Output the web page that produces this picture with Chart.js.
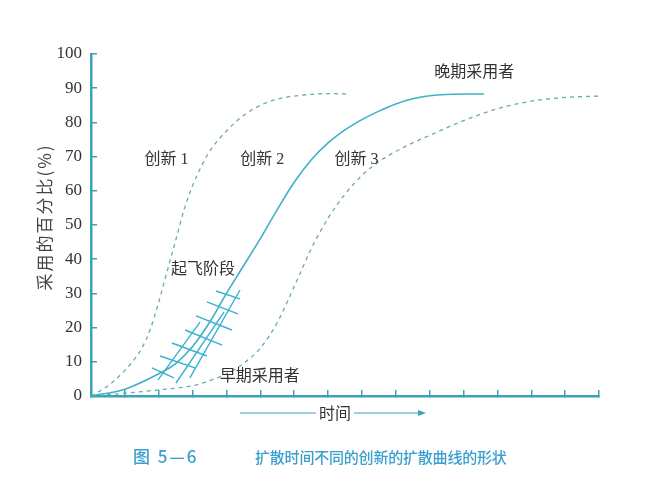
<!DOCTYPE html>
<html>
<head>
<meta charset="utf-8">
<script src="https://cdn.jsdelivr.net/npm/chart.js@4/dist/chart.umd.min.js"></script>
<style>
  body { margin: 0; background: #fff; }
  #wrap { width: 655px; height: 500px; }
</style>
</head>
<body>
<div id="wrap"><canvas id="diffusionChart" width="655" height="500"></canvas></div>
<script>
// diffusion curves, x = time (arbitrary units), y = % adopted
const innov1X = [0, 0.5, 1, 1.5, 1.75, 2, 2.25, 2.5, 2.75, 3, 3.25, 3.5, 4, 4.5, 5, 5.5, 6, 6.5, 7, 7.6]
const innov1Y = [0, 3, 7.5, 14, 19.5, 27.5, 36.5, 45.5, 54.5, 61.5, 67, 71.5, 77.5, 82, 85, 86.8, 87.7, 88.2, 88.4, 88.3]

const innov2X = [0, 1, 2, 2.5, 3, 3.5, 4, 4.5, 5, 5.5, 6, 6.5, 7, 7.5, 8, 8.5, 9, 9.5, 10, 11, 11.6]
const innov2Y = [0, 2, 6.5, 9.5, 14.5, 21.5, 30, 38, 46, 54.5, 62.5, 69, 74, 77.8, 80.8, 83.3, 85.4, 86.9, 87.8, 88.3, 88.3]

const innov3X = [0, 1, 2, 3, 3.5, 4, 4.5, 5, 5.5, 6, 6.5, 7, 7.5, 8, 8.5, 9, 9.5, 10, 11, 12, 13, 14, 15]
const innov3Y = [0, 0.8, 1.8, 3, 4.5, 6.5, 9.5, 14, 21.5, 32, 43, 52, 59, 64.5, 68.5, 71.5, 74, 76.2, 80.5, 84, 86.2, 87.3, 87.7]

// take-off hatching: [x1, y1, x2, y2] in data units
const hatchRails = [
    [1.98, 4.7, 3.22, 21.6],
    [2.51, 3.8, 3.93, 24.6],
    [2.92, 5.3, 4.40, 31.0]
]
const hatchBars = [
    [1.80, 8.2, 2.45, 5.3],
    [2.04, 11.7, 3.07, 8.2],
    [2.39, 15.5, 3.42, 11.7],
    [2.78, 19.3, 3.87, 14.9],
    [3.10, 23.4, 4.16, 19.3],
    [3.42, 27.5, 4.34, 24.0],
    [3.69, 30.7, 4.40, 28.4]
]

const yTicks = [0, 10, 20, 30, 40, 50, 60, 70, 80, 90, 100]
const xTickCount = 15

// text notes on the plot
const noteText = ['创新 1', '创新 2', '创新 3', '晚期采用者', '起飞阶段', '早期采用者']
const noteX = [2.23, 5.06, 7.84, 11.32, 3.31, 4.98]
const noteY = [69.0, 69.0, 69.0, 94.4, 36.8, 5.6]

const yTitle = '采用的百分比(%)'
const xTitle = '时间'
const captionNum = '图 5—6'
const captionText = '扩散时间不同的创新的扩散曲线的形状'

const axisColor = '#3aa3b8'
const solidColor = '#3fb0c6'
const dashColor = '#6aa9b6'
const hatchColor = '#38b2d2'
const cjk = '"Noto Sans CJK SC", sans-serif'
const serif = '"Liberation Serif", "Noto Sans CJK SC", serif'

function toPoints(xs, ys){
    return xs.map((x, i) => ({x: x, y: ys[i]}))
}

function segmentPoints(segs){
    const pts = []
    segs.forEach(s => {
        pts.push({x: s[0], y: s[1]})
        pts.push({x: s[2], y: s[3]})
        pts.push({x: s[2], y: null})
    })
    return pts
}

const textPlugin = {
    id: 'diffusionText',
    afterDatasetsDraw(chart){
        const ctx = chart.ctx
        const xs = chart.scales.x
        const ys = chart.scales.y
        const area = chart.chartArea
        ctx.save()

        // notes on the plot
        ctx.fillStyle = '#333'
        ctx.font = '16px ' + serif
        ctx.textAlign = 'center'
        ctx.textBaseline = 'middle'
        noteText.forEach((t, i) => {
            ctx.fillText(t, xs.getPixelForValue(noteX[i]), ys.getPixelForValue(noteY[i]))
        })

        // y axis title, rotated
        ctx.save()
        ctx.translate(45, (area.top + area.bottom) / 2 - 8)
        ctx.rotate(-Math.PI / 2)
        ctx.font = '17px ' + cjk
        ctx.fillStyle = '#444'
        ctx.letterSpacing = '2px'
        ctx.fillText(yTitle, 0, 0)
        ctx.restore()

        // x title with arrow
        const tx = 335
        const ty = area.bottom + 17
        ctx.font = '16px ' + cjk
        ctx.fillStyle = '#333'
        ctx.fillText(xTitle, tx, ty)
        ctx.strokeStyle = axisColor
        ctx.lineWidth = 1
        ctx.beginPath()
        ctx.moveTo(240, ty)
        ctx.lineTo(tx - 19, ty)
        ctx.moveTo(tx + 19, ty)
        ctx.lineTo(420, ty)
        ctx.stroke()
        ctx.fillStyle = axisColor
        ctx.beginPath()
        ctx.moveTo(426, ty)
        ctx.lineTo(418, ty - 3)
        ctx.lineTo(418, ty + 3)
        ctx.closePath()
        ctx.fill()

        // caption
        ctx.fillStyle = '#3a9fce'
        ctx.textAlign = 'left'
        ctx.font = '500 17px ' + cjk
        ctx.letterSpacing = '2px'
        ctx.fillText(captionNum, 133, area.bottom + 61)
        ctx.letterSpacing = '-0.2px'
        ctx.font = '500 15px ' + cjk
        ctx.fillText(captionText, 255, area.bottom + 61)
        ctx.restore()
    }
}

const config = {
    type: 'line',
    data: {
        datasets: [
            {
                data: toPoints(innov1X, innov1Y),
                borderColor: dashColor,
                borderWidth: 1.3,
                borderDash: [4, 4],
                cubicInterpolationMode: 'monotone',
                pointRadius: 0
            },
            {
                data: toPoints(innov2X, innov2Y),
                borderColor: solidColor,
                borderWidth: 1.6,
                cubicInterpolationMode: 'monotone',
                pointRadius: 0
            },
            {
                data: toPoints(innov3X, innov3Y),
                borderColor: dashColor,
                borderWidth: 1.3,
                borderDash: [4, 4],
                cubicInterpolationMode: 'monotone',
                pointRadius: 0
            },
            {
                data: segmentPoints(hatchRails.concat(hatchBars)),
                borderColor: hatchColor,
                borderWidth: 1.4,
                tension: 0,
                spanGaps: false,
                pointRadius: 0
            }
        ]
    },
    options: {
        responsive: false,
        animation: false,
        layout: {padding: {left: 0, top: 54, right: 56, bottom: 104}},
        plugins: {legend: {display: false}, tooltip: {enabled: false}},
        scales: {
            x: {
                type: 'linear',
                min: 0,
                max: xTickCount,
                afterBuildTicks: (scale) => {
                    scale.ticks = []
                    for (let i = 0; i <= xTickCount; i++) scale.ticks.push({value: i})
                },
                afterFit: (scale) => { scale.height = 0 },
                ticks: {display: false},
                grid: {drawOnChartArea: false, drawTicks: true, tickLength: -6, color: axisColor, lineWidth: 1.5},
                border: {color: axisColor, width: 2.5}
            },
            y: {
                min: 0,
                max: 100,
                afterBuildTicks: (scale) => {
                    scale.ticks = yTicks.map(v => ({value: v}))
                },
                afterFit: (scale) => { scale.width = 91 },
                ticks: {
                    padding: 15,
                    color: '#333',
                    font: {family: 'Liberation Serif', size: 17}
                },
                grid: {drawOnChartArea: false, drawTicks: true, tickLength: -6, color: axisColor, lineWidth: 1.5},
                border: {color: axisColor, width: 2.5}
            }
        }
    },
    plugins: [textPlugin]
}

new Chart(document.getElementById('diffusionChart'), config)
</script>
</body>
</html>
